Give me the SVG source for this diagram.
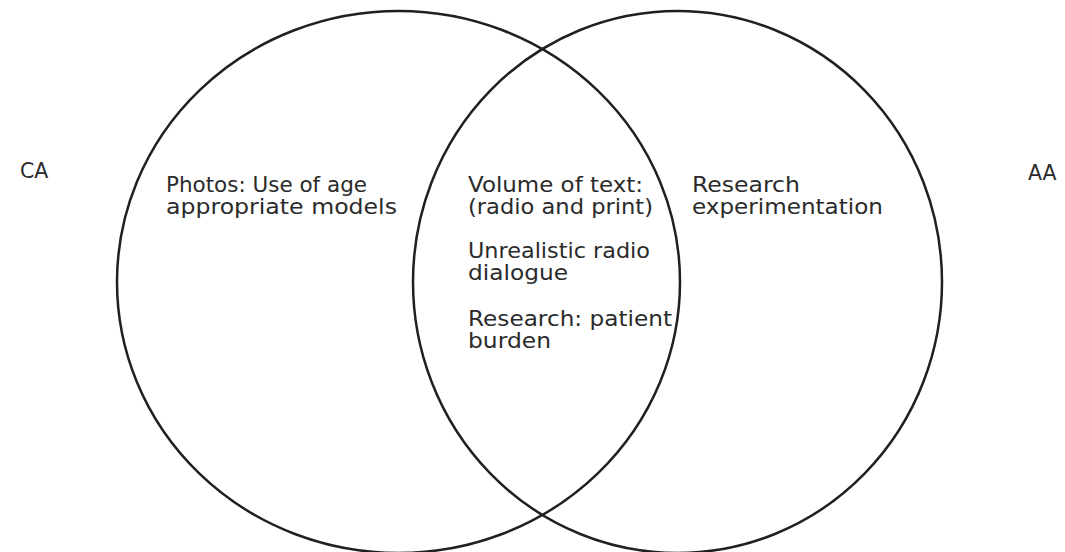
<svg xmlns="http://www.w3.org/2000/svg" width="1065" height="552" viewBox="0 0 1065 552">
  <style>
    .set { fill: none; stroke: #231f20; stroke-width: 2.5; }
    .lbl { font-family: "DejaVu Sans", "Liberation Sans", sans-serif; font-size: 20.5px; fill: #2b2b2b; }
  </style>
  <rect width="1065" height="552" fill="#ffffff"/>

  <!-- the two overlapping sets -->
  <g id="connectors">
    <ellipse id="set-ca" class="set" cx="398.5" cy="282" rx="281.5" ry="271"/>
    <ellipse id="set-aa" class="set" cx="677.5" cy="282" rx="264.5" ry="271"/>
  </g>

  <!-- side captions -->
  <g id="caption-ca">
    <text class="lbl" x="20" y="178">CA</text>
  </g>
  <g id="caption-aa">
    <text class="lbl" x="1028" y="180">AA</text>
  </g>

  <!-- CA only -->
  <g id="node-ca-only">
    <text class="lbl" x="166" y="192" textLength="201" lengthAdjust="spacingAndGlyphs">Photos: Use of age</text>
    <text class="lbl" x="166" y="214" textLength="231" lengthAdjust="spacingAndGlyphs">appropriate models</text>
  </g>

  <!-- shared by both -->
  <g id="node-shared">
    <text class="lbl" x="468" y="192" textLength="175" lengthAdjust="spacingAndGlyphs">Volume of text:</text>
    <text class="lbl" x="468" y="214" textLength="185" lengthAdjust="spacingAndGlyphs">(radio and print)</text>
    <text class="lbl" x="468" y="258" textLength="182" lengthAdjust="spacingAndGlyphs">Unrealistic radio</text>
    <text class="lbl" x="468" y="280" textLength="100" lengthAdjust="spacingAndGlyphs">dialogue</text>
    <text class="lbl" x="468" y="326" textLength="204" lengthAdjust="spacingAndGlyphs">Research: patient</text>
    <text class="lbl" x="468" y="348" textLength="83" lengthAdjust="spacingAndGlyphs">burden</text>
  </g>

  <!-- AA only -->
  <g id="node-aa-only">
    <text class="lbl" x="692" y="192" textLength="108" lengthAdjust="spacingAndGlyphs">Research</text>
    <text class="lbl" x="692" y="214" textLength="191" lengthAdjust="spacingAndGlyphs">experimentation</text>
  </g>
</svg>
